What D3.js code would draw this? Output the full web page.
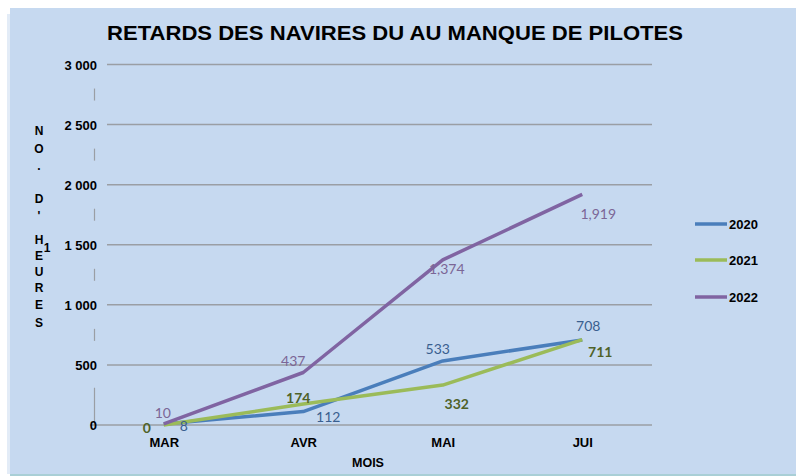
<!DOCTYPE html>
<html><head><meta charset="utf-8">
<script src="https://cdn.jsdelivr.net/npm/d3@7"></script>
<style>
html,body{margin:0;padding:0;background:#fff;}
svg{display:block;}
</style></head>
<body>
<svg id="chart" width="796" height="476"></svg>
<script>
const categories = ["MAR", "AVR", "MAI", "JUI"];
const series2020 = [8, 112, 533, 708];
const series2021 = [0, 174, 332, 711];
const series2022 = [10, 437, 1374, 1919];
const seriesNames = ["2020", "2021", "2022"];
const yTicks = [0, 500, 1000, 1500, 2000, 2500, 3000];
const titleText = "RETARDS DES NAVIRES DU AU MANQUE DE PILOTES";
const yTitleLetters = ["N", "O", ".", "D", "'", "H", "E", "U", "R", "E", "S"];
const xTitle = "MOIS";

const seriesData = [series2020, series2021, series2022];
const lineColors = ["#4a7ebb", "#9bbb59", "#8064a2"];
const labelColors = ["#3a5f8f", "#4f6228", "#7b6696"];
const labelWeights = ["normal", "bold", "normal"];
const labelFormats = [d3.format(","), d3.format(","), d3.format(",")];
// label offsets (dx, dy) relative to the point, styling only
const labelOffsets = [
  [[20, 2], [25, 5], [-5, -12], [6, -14]],
  [[-17, 3], [-5, -6], [14, 19], [18, 12]],
  [[-1, -11], [-10, -12], [4, 9], [16, 20]]
];

const svg = d3.select("#chart");
const W = 796, H = 476;

// background
svg.append("rect").attr("x", 7).attr("y", 14).attr("width", 3).attr("height", 460).attr("fill", "#e3ecf7");
svg.append("rect").attr("x", 10).attr("y", 8).attr("width", W - 10).attr("height", 467).attr("fill", "#c6d9f0");
svg.append("rect").attr("x", 10).attr("y", 474).attr("width", W - 10).attr("height", 2).attr("fill", "#a9cfd6");

const x = d3.scalePoint().domain(categories).range([94, 652]).padding(0.5);
const y = d3.scaleLinear().domain([0, 3000]).range([425, 64.5]);

// gridlines
svg.append("g").selectAll("line").data(yTicks.filter(d => d > 0)).join("line")
  .attr("x1", 107).attr("x2", 652)
  .attr("y1", d => y(d)).attr("y2", d => y(d))
  .attr("stroke", "#9a9ea4").attr("stroke-width", 1.5);
// baseline
svg.append("line").attr("x1", 90).attr("x2", 652).attr("y1", y(0)).attr("y2", y(0))
  .attr("stroke", "#9a9ea4").attr("stroke-width", 1.5);
// axis line fragments
const axFrag = svg.append("g").attr("stroke", "#9a9ea4").attr("stroke-width", 1.2);
yTicks.slice(1).forEach(t => {
  if (t === 500) return;
  const mid = y(t - 250);
  axFrag.append("line").attr("x1", 94.5).attr("x2", 94.5).attr("y1", mid - 6).attr("y2", mid + 6);
});
axFrag.append("line").attr("x1", 94.5).attr("x2", 94.5).attr("y1", y(310)).attr("y2", y(0));

// y tick labels
const yAxis = d3.axisLeft(y).tickValues(yTicks).tickSize(0).tickPadding(0)
  .tickFormat(d => d3.format(",")(d).replace(",", " "));
const gy = svg.append("g").attr("transform", "translate(97,0)").call(yAxis);
gy.select(".domain").remove();
gy.selectAll("text").attr("font-family", "Liberation Sans, Arial, sans-serif")
  .attr("font-weight", "bold").attr("font-size", 13).attr("fill", "#000").attr("dy", "0.36em");

// x tick labels
const xAxis = d3.axisBottom(x).tickSize(0).tickPadding(0);
const gx = svg.append("g").attr("transform", "translate(0,438)").call(xAxis);
gx.select(".domain").remove();
gx.selectAll("text").attr("font-family", "Liberation Sans, Arial, sans-serif")
  .attr("font-weight", "bold").attr("font-size", 13).attr("fill", "#000").attr("dy", "0.71em");

// x title
svg.append("text").attr("x", 368).attr("y", 467).attr("text-anchor", "middle")
  .attr("font-family", "Liberation Sans, Arial, sans-serif").attr("font-weight", "bold")
  .attr("font-size", 12.5).attr("fill", "#000").text(xTitle);

// y title stacked letters
const yTitleY = [135, 153, 170, 203, 220, 244, 260, 276, 292, 309, 327];
svg.append("g").selectAll("text").data(yTitleLetters).join("text")
  .attr("x", 39).attr("y", (d, i) => yTitleY[i]).attr("text-anchor", "middle")
  .attr("font-family", "Liberation Sans, Arial, sans-serif").attr("font-weight", "bold")
  .attr("font-size", 12).attr("fill", "#000").text(d => d);
svg.append("text").attr("x", 47).attr("y", 252).attr("text-anchor", "middle")
  .attr("font-family", "Liberation Sans, Arial, sans-serif").attr("font-weight", "bold")
  .attr("font-size", 12).attr("fill", "#000").text("1");

// title
svg.append("text").attr("x", 395).attr("y", 40).attr("text-anchor", "middle")
  .attr("font-family", "Liberation Sans, Arial, sans-serif").attr("font-weight", "bold")
  .attr("font-size", 21).attr("fill", "#000")
  .attr("textLength", 576).attr("lengthAdjust", "spacingAndGlyphs").text(titleText);

// lines
const line = d3.line().x((d, i) => x(categories[i])).y(d => y(d));
seriesData.forEach((s, k) => {
  svg.append("path").datum(s).attr("d", line).attr("fill", "none")
    .attr("stroke", lineColors[k]).attr("stroke-width", 3.5).attr("stroke-linejoin", "round");
});

// data labels
seriesData.forEach((s, k) => {
  svg.append("g").selectAll("text").data(s).join("text")
    .attr("x", (d, i) => x(categories[i]) + labelOffsets[k][i][0])
    .attr("y", (d, i) => y(d) + labelOffsets[k][i][1])
    .attr("text-anchor", "middle").attr("dy", "0.36em")
    .attr("font-family", "Lato, 'Open Sans', sans-serif")
    .attr("font-weight", labelWeights[k]).attr("font-size", 14)
    .attr("fill", labelColors[k]).text(d => labelFormats[k](d));
});

// legend
const legY = [224, 260, 297];
seriesNames.forEach((n, k) => {
  svg.append("line").attr("x1", 695).attr("x2", 727).attr("y1", legY[k]).attr("y2", legY[k])
    .attr("stroke", lineColors[k]).attr("stroke-width", 3.5);
  svg.append("text").attr("x", 729).attr("y", legY[k]).attr("dy", "0.36em")
    .attr("font-family", "Liberation Sans, Arial, sans-serif").attr("font-weight", "bold")
    .attr("font-size", 13).attr("fill", "#000").text(n);
});
</script>
</body></html>
